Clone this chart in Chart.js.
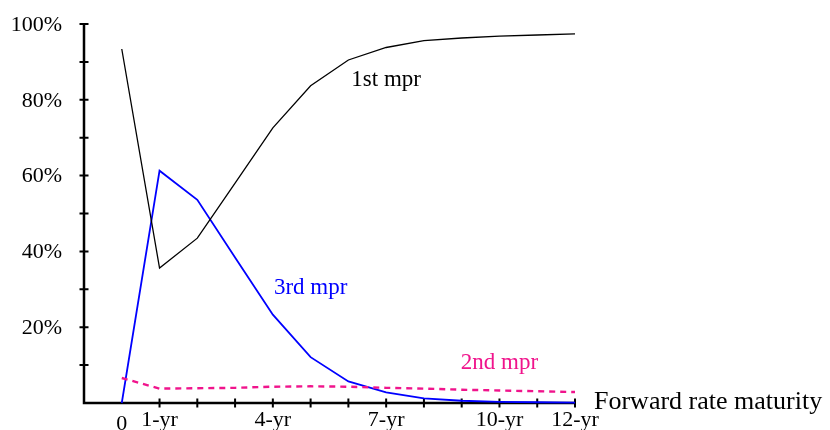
<!DOCTYPE html>
<html>
<head>
<meta charset="utf-8">
<script src="https://cdn.jsdelivr.net/npm/chart.js@4.4.0/dist/chart.umd.min.js"></script>
<style>
  body { margin: 0; background: #fff; }
  canvas { display: block; }
</style>
</head>
<body>
<canvas id="mprChart" width="830" height="430"></canvas>
<script>
// maturity in years, share of variance explained by each market price of risk (%)
const years = [0, 1, 2, 3, 4, 5, 6, 7, 8, 9, 10, 11, 12];
const firstMpr = [93.4, 35.6, 43.5, 58.0, 72.6, 83.7, 90.5, 93.8, 95.6, 96.3, 96.8, 97.1, 97.4];
const secondMpr = [6.6, 3.8, 3.9, 4.0, 4.3, 4.4, 4.3, 4.0, 3.8, 3.5, 3.3, 3.1, 2.9];
const thirdMpr = [0, 61.3, 53.6, 38.4, 23.3, 12.1, 5.7, 2.8, 1.2, 0.6, 0.3, 0.2, 0.1];

const xTickValues = [1, 2, 3, 4, 5, 6, 7, 8, 9, 10, 11, 12];
const xLabelValues = [0, 1, 4, 7, 10, 12];
const xLabelText = ['0', '1-yr', '4-yr', '7-yr', '10-yr', '12-yr'];
const yTickValues = [10, 20, 30, 40, 50, 60, 70, 80, 90, 100];
const yLabelValues = [20, 40, 60, 80, 100];
const yLabelText = ['20%', '40%', '60%', '80%', '100%'];

// series name labels, placed in data coordinates (center)
const seriesNames = ['1st mpr', '2nd mpr', '3rd mpr'];
const seriesNameX = [7.0, 10.0, 5.0];
const seriesNameY = [85.3, 10.5, 30.4];
const seriesColors = ['#000000', '#f0148c', '#0000ff'];

const FONT = '"Liberation Serif", "Times New Roman", serif';

const toPoints = vals => vals.map((v, i) => ({ x: years[i], y: v }));

// hand-drawn axes: ticks cross the axis line like the original figure
const axesPlugin = {
    id: 'axesPlugin',
    beforeDatasetsDraw(chart) {
        const ctx = chart.ctx;
        const xs = chart.scales.x, ys = chart.scales.y;
        const left = xs.getPixelForValue(-1), right = xs.getPixelForValue(12);
        const bottom = ys.getPixelForValue(0), top = ys.getPixelForValue(100);
        ctx.save();
        ctx.strokeStyle = '#000';
        ctx.lineWidth = 2.5;
        ctx.beginPath();
        ctx.moveTo(left, top);
        ctx.lineTo(left, bottom);
        ctx.lineTo(right, bottom);
        ctx.stroke();

        ctx.lineWidth = 2;
        ctx.beginPath();
        yTickValues.forEach(v => {
            const py = ys.getPixelForValue(v);
            ctx.moveTo(left - 4.5, py);
            ctx.lineTo(left + 4.5, py);
        });
        xTickValues.forEach(v => {
            const px = xs.getPixelForValue(v);
            ctx.moveTo(px, bottom - 4.5);
            ctx.lineTo(px, bottom + 4.5);
        });
        ctx.stroke();

        ctx.fillStyle = '#000';
        ctx.font = '22px ' + FONT;
        ctx.textAlign = 'right';
        ctx.textBaseline = 'middle';
        yLabelValues.forEach((v, i) => {
            ctx.fillText(yLabelText[i], left - 22, ys.getPixelForValue(v) + 1);
        });
        ctx.textAlign = 'center';
        ctx.textBaseline = 'alphabetic';
        xLabelValues.forEach((v, i) => {
            // the origin "0" sits a little lower in the original
            const dy = v === 0 ? 4 : 0;
            ctx.fillText(xLabelText[i], xs.getPixelForValue(v), bottom + 22.5 + dy);
        });

        ctx.textAlign = 'left';
        ctx.font = '26px ' + FONT;
        ctx.fillText('Forward rate maturity', right + 19, bottom + 6);
        ctx.restore();
    },
    afterDatasetsDraw(chart) {
        const ctx = chart.ctx;
        const xs = chart.scales.x, ys = chart.scales.y;
        ctx.save();
        ctx.font = '23px ' + FONT;
        ctx.textAlign = 'center';
        ctx.textBaseline = 'middle';
        seriesNames.forEach((name, i) => {
            ctx.fillStyle = seriesColors[i];
            ctx.fillText(name, xs.getPixelForValue(seriesNameX[i]), ys.getPixelForValue(seriesNameY[i]));
        });
        ctx.restore();
    }
};

new Chart(document.getElementById('mprChart'), {
    type: 'line',
    data: {
        datasets: [
            {
                label: seriesNames[0],
                data: toPoints(firstMpr),
                borderColor: seriesColors[0],
                borderWidth: 1.3,
                pointRadius: 0,
                tension: 0,
                clip: false
            },
            {
                label: seriesNames[1],
                data: toPoints(secondMpr),
                borderColor: seriesColors[1],
                borderWidth: 2.4,
                borderDash: [6, 5],
                pointRadius: 0,
                tension: 0,
                clip: false
            },
            {
                label: seriesNames[2],
                data: toPoints(thirdMpr),
                borderColor: seriesColors[2],
                borderWidth: 1.8,
                pointRadius: 0,
                tension: 0,
                clip: false
            }
        ]
    },
    options: {
        responsive: false,
        animation: false,
        layout: { padding: { left: 84, right: 255, top: 24, bottom: 27 } },
        plugins: {
            legend: { display: false },
            tooltip: { enabled: false }
        },
        scales: {
            x: { type: 'linear', min: -1, max: 12, display: false },
            y: { type: 'linear', min: 0, max: 100, display: false }
        }
    },
    plugins: [axesPlugin]
});
</script>
</body>
</html>
